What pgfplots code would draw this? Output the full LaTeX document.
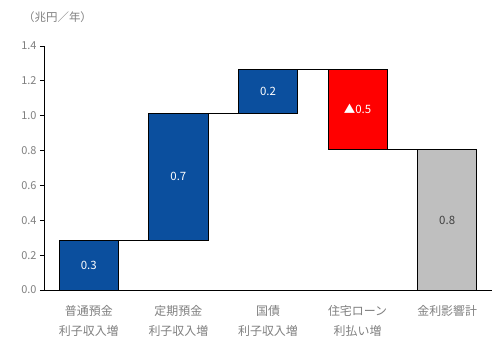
\documentclass[border=0pt]{standalone}
\usepackage{fontspec}
\setmainfont{Noto Sans CJK JP}
\usepackage{pgfplots}
\pgfplotsset{compat=1.18}
\definecolor{barblue}{HTML}{0B4F9E}
\definecolor{barred}{HTML}{FF0000}
\definecolor{bargray}{HTML}{BFBFBF}
\definecolor{txtgray}{HTML}{7F7F7F}
\begin{document}
\begin{tikzpicture}
\begin{axis}[
  scale only axis, width=448bp, height=244bp,
  xmin=-0.5, xmax=4.5, ymin=0, ymax=1.4,
  axis x line=bottom, axis y line=left,
  axis line style={-, black, line width=0.8bp},
  ytick={0,0.2,...,1.4},
  yticklabel style={/pgf/number format/fixed, /pgf/number format/fixed zerofill, /pgf/number format/precision=1, font=\fontsize{11}{12}\selectfont, text=txtgray},
  /pgf/number format/assume math mode=true,
  tick align=outside, major tick length=4bp,
  ytick style={black, line width=0.8bp},
  xtick={0,1,2,3,4},
  xtick style={draw=none},
  xticklabels={{普通預金\\利子収入増},{定期預金\\利子収入増},{国債\\利子収入増},{住宅ローン\\利払い増},{金利影響計}},
  xticklabel style={align=center, font=\fontsize{12}{20}\selectfont, text=txtgray, yshift=-8bp},
  clip=false,
]
\addplot[fill=barblue, draw=black, line width=0.8bp] coordinates {(-0.33,0) (0.33,0) (0.33,0.287) (-0.33,0.287)} -- cycle;
\addplot[fill=barblue, draw=black, line width=0.8bp] coordinates {(0.67,0.287) (1.33,0.287) (1.33,1.015) (0.67,1.015)} -- cycle;
\addplot[fill=barblue, draw=black, line width=0.8bp] coordinates {(1.67,1.015) (2.33,1.015) (2.33,1.268) (1.67,1.268)} -- cycle;
\addplot[fill=barred, draw=black, line width=0.8bp] coordinates {(2.67,0.809) (3.33,0.809) (3.33,1.268) (2.67,1.268)} -- cycle;
\addplot[fill=bargray, draw=black, line width=0.8bp] coordinates {(3.67,0) (4.33,0) (4.33,0.809) (3.67,0.809)} -- cycle;
\addplot[black, line width=0.8bp] coordinates {(0.33,0.287) (0.67,0.287)};
\addplot[black, line width=0.8bp] coordinates {(1.33,1.015) (1.67,1.015)};
\addplot[black, line width=0.8bp] coordinates {(2.33,1.268) (2.67,1.268)};
\addplot[black, line width=0.8bp] coordinates {(3.33,0.809) (3.67,0.809)};
\node[text=white, font=\fontsize{11.5}{12}\selectfont] at (axis cs:0,0.14) {0.3};
\node[text=white, font=\fontsize{11.5}{12}\selectfont] at (axis cs:1,0.65) {0.7};
\node[text=white, font=\fontsize{11.5}{12}\selectfont] at (axis cs:2,1.14) {0.2};
\node[text=white, font=\fontsize{11.5}{12}\selectfont] at (axis cs:3,1.04) {▲0.5};
\node[text=black!75, font=\fontsize{11.5}{12}\selectfont] at (axis cs:4,0.40) {0.8};
\node[anchor=west, inner sep=0pt, text=txtgray, font=\fontsize{11.5}{12}\selectfont] at ([shift={(-21bp,29bp)}]rel axis cs:0,1) {（兆円／年）};
\coordinate (SW) at (rel axis cs:0,0);
\coordinate (NE) at (rel axis cs:1,1);
\end{axis}
\pgfresetboundingbox
\path ([shift={(-44bp,-64bp)}]SW) rectangle ([shift={(10bp,46bp)}]NE);
\end{tikzpicture}
\end{document}
